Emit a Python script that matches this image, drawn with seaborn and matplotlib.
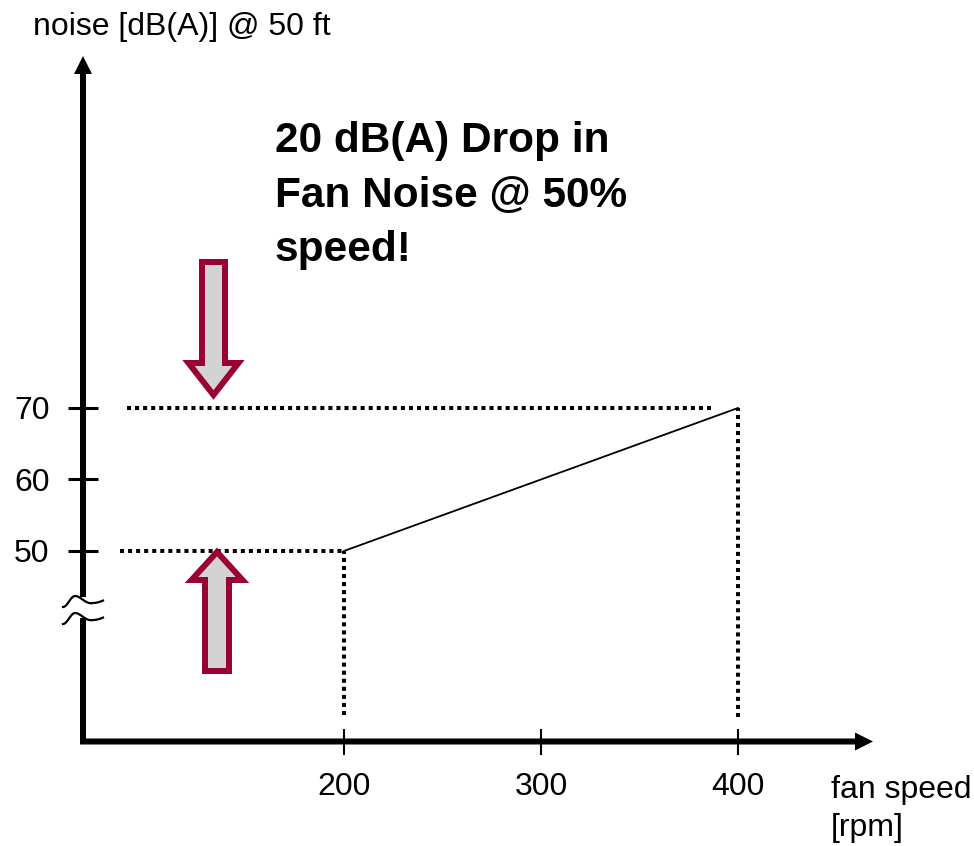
import numpy as np
import matplotlib
matplotlib.use('Agg')
import matplotlib.pyplot as plt
from matplotlib.patches import FancyArrow
import seaborn as sns
import pandas as pd

# ---- data ----
speed = [200, 400]
noise = [50, 70]
x_ticks = [200, 300, 400]
x_labels = ['200', '300', '400']
y_ticks = [50, 60, 70]
y_labels = ['50', '60', '70']
y_title = 'noise [dB(A)] @ 50 ft'
x_title = ['fan speed', '[rpm]']
message = ['20 dB(A) Drop in', 'Fan Noise @ 50%', 'speed!']

plt.rcParams['font.family'] = ['Liberation Sans', 'DejaVu Sans']

W, H = 974, 846
fig = plt.figure(figsize=(W / 100, H / 100), dpi=100)
ax = fig.add_axes([0, 0, 1, 1])
XL = (25.4, 519.8)
YL = (8.74, 127.06)


def px_x(p):
    return XL[0] + p / W * (XL[1] - XL[0])


def px_y(p):
    return YL[1] - p / H * (YL[1] - YL[0])


def dx(p):
    return p / W * (XL[1] - XL[0])


def dy(p):
    return p / H * (YL[1] - YL[0])


# main line
df = pd.DataFrame({'speed': speed, 'noise': noise})
sns.lineplot(data=df, x='speed', y='noise', color='black', lw=1.3, ax=ax)
ax.set_xlabel('')
ax.set_ylabel('')
ax.set_xlim(*XL)
ax.set_ylim(*YL)
ax.set_facecolor('white')
ax.grid(False)

# dotted reference lines
dot = dict(colors='black', linestyles=(0, (1, 1)), linewidth=2.9, zorder=2)
ax.hlines(noise[1], px_x(127), px_x(715), **dot)
ax.hlines(noise[0], px_x(120), speed[0], **dot)
ax.vlines(speed[0], px_y(715), noise[0], **dot)
ax.vlines(speed[1], px_y(717), noise[1], **dot)

# spines positioned, hidden; axes drawn manually
for s in ax.spines.values():
    s.set_visible(False)
ax.spines['left'].set_position(('data', px_x(83)))
ax.spines['bottom'].set_position(('data', px_y(741.5)))

ax.set_xticks(x_ticks, x_labels)
ax.set_yticks(y_ticks, y_labels)
ax.tick_params(axis='x', direction='inout', length=19.4, width=1.5, colors='black',
               labelsize=23, pad=12, bottom=True, top=False)
ax.tick_params(axis='y', direction='inout', length=20.9, width=2.2, colors='black',
               labelsize=23, pad=13.5, left=True, right=False)

# y axis (broken)
ax.add_patch(FancyArrow(px_x(83), px_y(597), 0, px_y(56) - px_y(597), width=dx(6),
                        head_width=dx(18), head_length=dy(18), length_includes_head=True,
                        fc='black', lw=0, zorder=5))
ax.plot([px_x(83), px_x(83)], [px_y(744), px_y(618)], color='black', lw=4.32,
        solid_capstyle='butt', zorder=5)
# x axis
ax.add_patch(FancyArrow(px_x(80), px_y(741.5), px_x(873) - px_x(80), 0, width=dy(6),
                        head_width=dy(18), head_length=dx(18), length_includes_head=True,
                        fc='black', lw=0, zorder=5))

# break marks
t = np.linspace(0, 1, 80)
theta = np.interp(t, [0, .3, .75, 1], [-.5 * np.pi, .5 * np.pi, 1.5 * np.pi, 1.9 * np.pi])
amp = np.interp(t, [0, .3, .75, 1], [5.5, 5.5, 3.5, 3.5])
cen = np.interp(t, [0, .3, .75, 1], [601.5, 601.5, 599.5, 599.5])
wx = 63 + 40 * t
wy = cen - amp * np.sin(theta)
for off in (0, 17):
    ax.plot(px_x(wx), px_y(wy + off), color='black', lw=1.6, zorder=6)

# block arrows
edge = '#990033'
fill = '#d3d3d3'
ax.add_patch(FancyArrow(px_x(213.5), px_y(262), 0, px_y(395) - px_y(262), width=dx(23),
                        head_width=dx(50), head_length=dy(32), length_includes_head=True,
                        fc=fill, ec=edge, lw=4.3, joinstyle='miter', zorder=7))
ax.add_patch(FancyArrow(px_x(217), px_y(671), 0, px_y(552) - px_y(671), width=dx(24),
                        head_width=dx(51), head_length=dy(28), length_includes_head=True,
                        fc=fill, ec=edge, lw=4.3, joinstyle='miter', zorder=7))

# texts
ax.text(px_x(33), px_y(35), y_title, fontsize=23, ha='left', va='baseline', color='black')
ax.text(px_x(831), px_y(798), x_title[0], fontsize=23, ha='left', va='baseline', color='black')
ax.text(px_x(831), px_y(836), x_title[1], fontsize=23, ha='left', va='baseline', color='black')
for line, base in zip(message, [152, 207, 261]):
    ax.text(px_x(275), px_y(base), line, fontsize=30.5, fontweight='bold',
            ha='left', va='baseline', color='black')

fig.savefig('out.png', dpi=100, facecolor='white')
